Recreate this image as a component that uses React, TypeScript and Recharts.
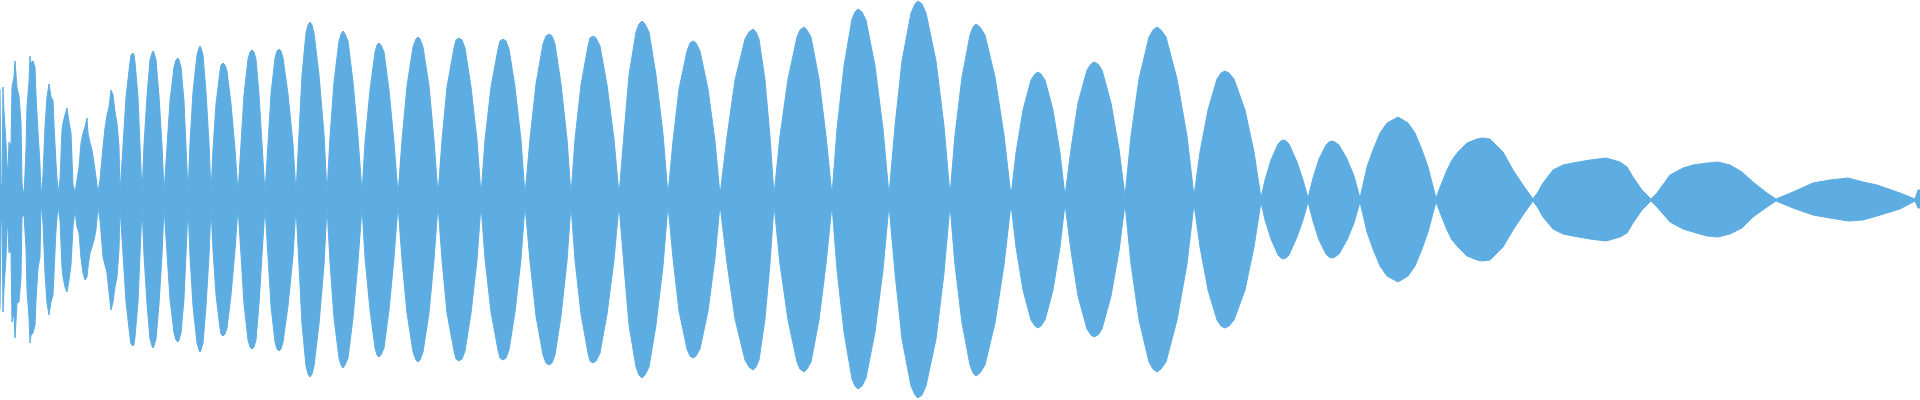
import { AreaChart, Area, XAxis, YAxis } from 'recharts';

// sample position (px along the track) and envelope amplitude above / below the centre line (0..200)

// noisy onset burst
const onsetX = [0, 1, 2, 3, 4, 6, 7, 8, 9, 11, 12, 14, 15, 17, 19, 21, 22, 24, 26, 27, 29, 30, 31, 33, 35, 36, 38, 40, 41, 43, 45, 47, 49, 51, 53, 54, 56, 58, 60, 62, 63, 65, 67, 69, 71, 73, 75, 77, 79, 81, 83, 85, 87, 88, 90, 92, 94, 96, 98, 100, 103, 105, 107, 109, 111, 113, 115, 117, 119];
const onsetUpper = [111, 15, 15, 113, 88, 57, 35, 30, 58, 54, 113, 123, 139, 112, 104, 78, 17, 3, 50, 94, 118, 144, 137, 139, 133, 104, 68, 35, 3, 25, 73, 103, 116, 103, 100, 75, 37, 7, 20, 70, 77, 85, 92, 78, 67, 15, 8, 20, 33, 57, 67, 73, 82, 67, 57, 50, 37, 23, 7, 20, 53, 72, 85, 93, 110, 105, 88, 77, 53];
const onsetLower = [109, 23, 20, 112, 88, 57, 25, 30, 53, 50, 122, 113, 138, 103, 102, 77, 17, 15, 48, 90, 117, 143, 135, 133, 125, 100, 68, 57, 3, 23, 73, 103, 115, 102, 95, 73, 30, 6, 20, 67, 77, 87, 92, 80, 65, 27, 10, 27, 33, 58, 73, 80, 77, 67, 53, 47, 40, 30, 7, 20, 57, 65, 73, 92, 110, 102, 87, 77, 50];

// beating lobes, one row per lobe
const bodyX = [
  120, 123, 126, 130, 131, 133, 134, 135, 138, 140,
  142, 144, 147, 150, 152, 153, 154, 156, 159, 162,
  164, 167, 170, 174, 176, 178, 179, 181, 184, 186,
  188, 190, 193, 197, 199, 200, 201, 203, 206, 209,
  211, 213, 216, 220, 221, 223, 225, 227, 231, 235,
  238, 241, 244, 248, 250, 252, 254, 256, 259, 262,
  265, 268, 271, 275, 277, 279, 281, 283, 288, 293,
  296, 299, 302, 306, 308, 310, 312, 314, 319, 324,
  327, 330, 334, 339, 341, 343, 345, 348, 353, 358,
  362, 365, 370, 375, 377, 379, 381, 384, 389, 394,
  398, 402, 407, 413, 416, 418, 420, 423, 429, 434,
  438, 442, 447, 454, 456, 459, 462, 465, 471, 477,
  481, 485, 491, 498, 500, 503, 506, 509, 515, 521,
  525, 530, 536, 543, 546, 549, 552, 555, 561, 567,
  571, 575, 581, 588, 590, 593, 596, 600, 607, 614,
  619, 624, 629, 636, 639, 642, 645, 649, 656, 663,
  668, 673, 679, 687, 690, 693, 696, 700, 708, 715,
  720, 727, 735, 745, 749, 753, 756, 759, 765, 770,
  774, 780, 788, 797, 800, 804, 807, 811, 819, 826,
  832, 837, 844, 852, 855, 858, 862, 866, 875, 883,
  889, 895, 902, 911, 915, 918, 922, 926, 936, 944,
  950, 955, 962, 970, 973, 976, 980, 985, 995, 1004,
  1011, 1016, 1023, 1031, 1035, 1038, 1041, 1045, 1053, 1060,
  1065, 1071, 1078, 1087, 1091, 1094, 1098, 1102, 1111, 1119,
  1125, 1131, 1139, 1149, 1153, 1157, 1161, 1166, 1177, 1187,
  1194, 1200, 1208, 1217, 1221, 1225, 1229, 1234, 1245, 1254,
  1261, 1265, 1271, 1278, 1281, 1283, 1286, 1289, 1297, 1303,
  1308, 1313, 1319, 1326, 1329, 1332, 1335, 1339, 1347, 1354,
  1360, 1367, 1373, 1380, 1387, 1398, 1408, 1415, 1422, 1428,
  1436, 1441, 1447, 1452, 1458, 1467, 1477, 1482, 1490, 1503, 1513, 1523,
  1533, 1538, 1543, 1553, 1563, 1573, 1590, 1606, 1620, 1627, 1633, 1642,
  1651, 1657, 1670, 1683, 1693, 1707, 1718, 1730, 1742, 1753, 1767,
  1776, 1793, 1813, 1830, 1848, 1863, 1877, 1900, 1915, 1918, 1920,
];
const bodyUpper = [
  7, 54, 103, 138, 145, 147, 145, 138, 103, 54,
  7, 55, 104, 140, 147, 149, 147, 140, 104, 55,
  7, 53, 99, 133, 140, 142, 140, 133, 99, 53,
  7, 57, 108, 145, 152, 154, 152, 145, 108, 57,
  7, 51, 96, 129, 135, 137, 135, 129, 96, 51,
  7, 56, 105, 141, 148, 150, 148, 141, 105, 56,
  7, 56, 106, 142, 149, 151, 149, 142, 106, 56,
  7, 66, 125, 167, 175, 178, 175, 167, 125, 66,
  7, 63, 118, 159, 166, 169, 166, 159, 118, 63,
  7, 58, 110, 148, 155, 157, 155, 148, 110, 58,
  5, 60, 114, 153, 161, 163, 161, 153, 114, 60,
  5, 60, 113, 152, 160, 162, 160, 152, 113, 60,
  5, 60, 113, 151, 159, 161, 159, 151, 113, 60,
  5, 61, 116, 156, 164, 166, 164, 156, 116, 61,
  5, 61, 115, 154, 162, 164, 162, 154, 115, 61,
  5, 66, 125, 168, 176, 179, 176, 168, 125, 66,
  5, 59, 111, 149, 157, 159, 157, 149, 111, 59,
  5, 63, 120, 161, 168, 171, 168, 161, 120, 63,
  5, 64, 121, 163, 170, 173, 170, 163, 121, 64,
  5, 71, 134, 181, 188, 191, 188, 180, 134, 71,
  5, 74, 139, 187, 196, 199, 196, 187, 139, 74,
  5, 65, 123, 165, 173, 176, 173, 165, 123, 65,
  4, 47, 90, 120, 126, 128, 126, 120, 90, 47,
  4, 51, 97, 130, 136, 138, 136, 130, 97, 51,
  4, 64, 121, 163, 170, 173, 170, 163, 121, 64,
  4, 48, 90, 121, 127, 129, 127, 121, 90, 48,
  2, 20, 40, 56, 59, 60, 59, 56, 38, 20,
  2, 22, 41, 55, 58, 59, 58, 55, 41, 24,
  2, 33, 50, 67, 77, 83, 77, 67, 50, 33,
  2, 15, 30, 40, 48, 57, 61, 62, 61, 48, 30, 15,
  1, 8, 17, 30, 35, 37, 40, 42, 38, 33, 23, 10,
  1, 7, 25, 32, 35, 37, 38, 35, 28, 18, 7,
  1, 8, 17, 20, 22, 18, 15, 7, 1, 10, 10,
];
const bodyLower = [
  7, 54, 102, 137, 144, 146, 144, 137, 102, 54,
  7, 55, 104, 139, 146, 148, 146, 139, 104, 55,
  7, 53, 99, 133, 140, 142, 140, 133, 99, 53,
  7, 56, 106, 143, 150, 152, 150, 143, 106, 56,
  7, 50, 95, 128, 134, 136, 134, 128, 95, 50,
  7, 55, 104, 140, 147, 149, 147, 140, 104, 55,
  7, 56, 106, 142, 149, 151, 149, 142, 106, 56,
  7, 65, 124, 166, 174, 177, 174, 166, 124, 65,
  7, 62, 118, 158, 165, 168, 165, 158, 118, 62,
  7, 58, 110, 148, 155, 157, 155, 148, 110, 58,
  5, 60, 113, 152, 160, 162, 160, 152, 113, 60,
  5, 60, 113, 151, 159, 161, 159, 151, 113, 60,
  5, 59, 112, 150, 158, 160, 158, 150, 112, 59,
  5, 61, 116, 155, 163, 165, 163, 155, 116, 61,
  5, 60, 114, 153, 161, 163, 161, 153, 114, 60,
  5, 66, 125, 167, 175, 178, 175, 167, 125, 66,
  5, 58, 111, 149, 156, 158, 156, 149, 111, 58,
  5, 63, 119, 160, 167, 170, 167, 160, 119, 63,
  5, 64, 120, 162, 169, 172, 169, 162, 120, 64,
  5, 70, 132, 179, 186, 189, 186, 178, 132, 70,
  5, 73, 139, 186, 195, 198, 195, 186, 139, 73,
  5, 65, 123, 165, 173, 176, 173, 165, 123, 65,
  4, 47, 90, 120, 126, 128, 126, 120, 90, 47,
  4, 51, 96, 129, 135, 137, 135, 129, 96, 51,
  4, 64, 120, 162, 169, 172, 169, 162, 120, 64,
  4, 47, 90, 120, 126, 128, 126, 120, 90, 47,
  2, 20, 39, 55, 58, 59, 58, 55, 37, 20,
  2, 21, 40, 54, 57, 58, 57, 54, 40, 23,
  2, 32, 49, 66, 76, 82, 76, 66, 49, 32,
  2, 15, 30, 40, 47, 56, 60, 61, 60, 47, 30, 15,
  1, 8, 17, 29, 34, 36, 39, 41, 37, 33, 23, 10,
  1, 7, 22, 29, 32, 36, 37, 34, 28, 17, 7,
  1, 8, 15, 18, 21, 20, 16, 9, 1, 8, 8,
];

const WAVE_COLOR = '#5dade2';

const xs = [...onsetX, ...bodyX];
const upper = [...onsetUpper, ...bodyUpper];
const lower = [...onsetLower, ...bodyLower];

const data = xs.map((x, i) => ({ x, range: [-lower[i], upper[i]] }));

export default function App() {
  return (
    <div style={{ position: 'fixed', left: 0, top: 0, width: 1920, height: 400, background: '#fff' }}>
      <AreaChart width={1920} height={400} data={data} margin={{ top: 0, right: 0, bottom: 0, left: 0 }}>
        <XAxis dataKey="x" type="number" domain={[0, 1920]} hide />
        <YAxis type="number" domain={[-200, 200]} allowDataOverflow hide />
        <Area type="linear" dataKey="range" stroke={WAVE_COLOR} strokeWidth={1} fill={WAVE_COLOR} fillOpacity={1} isAnimationActive={false} dot={false} activeDot={false} />
      </AreaChart>
    </div>
  );
}
